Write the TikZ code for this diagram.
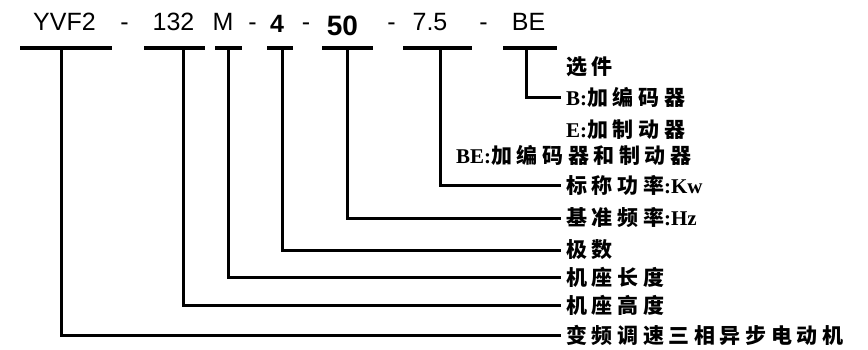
\documentclass[tikz,border=0pt]{standalone}
\usepackage{fontspec}
\setmainfont{Liberation Serif}
\newfontfamily\cjk[LetterSpace=22]{Noto Sans CJK SC}
\newfontfamily\arial{Liberation Sans}
\tikzset{
  toplab/.style={anchor=base, inner sep=0pt, font=\arial\fontsize{25}{25}\selectfont},
  toplabb/.style={toplab, font=\arial\bfseries\fontsize{25}{25}\selectfont},
  rlab/.style={anchor=west, inner xsep=5pt, inner ysep=0pt, font=\bfseries\fontsize{21}{21}\selectfont},
  bar/.style={line width=3.6pt},
  stem/.style={line width=3pt},
}
\begin{document}
\begin{tikzpicture}[x=1pt,y=-1pt]
\useasboundingbox (0,0) rectangle (868,349);
% top labels
\node[toplab] (yvf) at (64.5,30) {YVF2};
\node[toplab] (d1) at (124.5,30) {-};
\node[toplab] (n132) at (173.5,30) {132};
\node[toplab] (m) at (223,30) {M};
\node[toplab] (d2) at (252.5,30) {-};
\node[toplabb] (p4) at (277,32) {4};
\node[toplab] (d3) at (306,30) {-};
\node[toplabb, font=\arial\bfseries\fontsize{28}{28}\selectfont] (f50) at (342.5,35) {50};
\node[toplab] (d4) at (391.5,30) {-};
\node[toplab] (kw) at (430,30) {7.5};
\node[toplab] (d5) at (483.5,30) {-};
\node[toplab] (be) at (528.5,30) {BE};
% bar coordinates
\coordinate (b1l) at (20,48);  \coordinate (b1r) at (112,48); \coordinate (s1) at (61,48);
\coordinate (b2l) at (144,48); \coordinate (b2r) at (205,48); \coordinate (s2) at (183,48);
\coordinate (b3l) at (215,48); \coordinate (b3r) at (242,48); \coordinate (s3) at (228,48);
\coordinate (b4l) at (267,48); \coordinate (b4r) at (293,48); \coordinate (s4) at (282,48);
\coordinate (b5l) at (322,48); \coordinate (b5r) at (373,48); \coordinate (s5) at (347,48);
\coordinate (b6l) at (403,48); \coordinate (b6r) at (472,48); \coordinate (s6) at (440,48);
\coordinate (b7l) at (503,48); \coordinate (b7r) at (557,48); \coordinate (s7) at (526,48);
\foreach \i in {1,...,7} {\draw[bar] (b\i l) -- (b\i r);}
% right labels
\node[rlab] (opt) at (561,67) {\cjk 选件};
\node[rlab] (lb) at (561,97) {B:\cjk 加编码器};
\node[rlab] (le) at (561,130) {E:\cjk 加制动器};
\node[rlab] (lbe) at (451,155) {BE:\cjk 加编码器和制动器};
\node[rlab] (lkw) at (561,185) {{\cjk 标称功率}:Kw};
\node[rlab] (lhz) at (561,218) {{\cjk 基准频率}:Hz};
\node[rlab] (lp) at (561,250) {\cjk 极数};
\node[rlab] (ll) at (561,277) {\cjk 机座长度};
\node[rlab] (lh) at (561,305) {\cjk 机座高度};
\node[rlab] (lm) at (561,335) {\cjk 变频调速三相异步电动机};
% connectors
\draw[stem] (s7) |- (lb.west);
\draw[stem] (s6) |- (lkw.west);
\draw[stem] (s5) |- (lhz.west);
\draw[stem] (s4) |- (lp.west);
\draw[stem] (s3) |- (ll.west);
\draw[stem] (s2) |- (lh.west);
\draw[stem] (s1) |- (lm.west);
\end{tikzpicture}
\end{document}
